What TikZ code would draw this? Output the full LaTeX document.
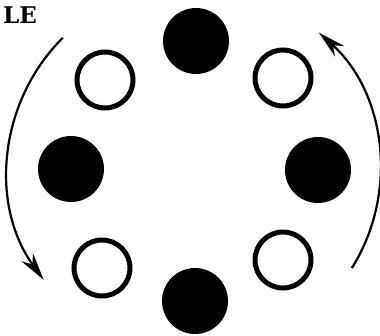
\documentclass[tikz,border=0pt]{standalone}
\usepackage{fontspec}
\usepackage{tikz}
\usetikzlibrary{arrows.meta}
\newfontfamily\tagfont{DejaVu Serif}

\begin{document}
\begin{tikzpicture}[x=1pt,y=-1pt,>={Stealth[length=28pt,width=14pt,inset=9pt]},
  blackdisc/.style={circle,fill=black,minimum size=66pt,inner sep=0pt},
  whitering/.style={circle,draw=black,line width=5pt,minimum size=56pt,inner sep=0pt},
  turn/.style={->,line width=2.2pt}]
  \useasboundingbox (0,0) rectangle (380,335);
  % filled discs
  \node[blackdisc] (top) at (196,41) {};
  \node[blackdisc] (bot) at (195,301) {};
  \node[blackdisc] (lft) at (71,169) {};
  \node[blackdisc] (rgt) at (318,170) {};
  % open rings
  \node[whitering] (ul) at (105,80) {};
  \node[whitering] (ur) at (283,78) {};
  \node[whitering] (ll) at (102,268) {};
  \node[whitering] (lr) at (283,260) {};
  % rotation arcs
  \coordinate (ctr) at (195,170);
  \draw[turn] ([shift={(225:187)}]ctr) arc[start angle=225,end angle=144,radius=187];
  \draw[turn] ([shift={(32:185)}]ctr) arc[start angle=32,end angle=-48,radius=185];
  \node[anchor=base west,inner sep=0pt,font=\tagfont\bfseries\fontsize{23}{23}\selectfont] (tag) at (3,23) {LE};
\end{tikzpicture}
\end{document}
